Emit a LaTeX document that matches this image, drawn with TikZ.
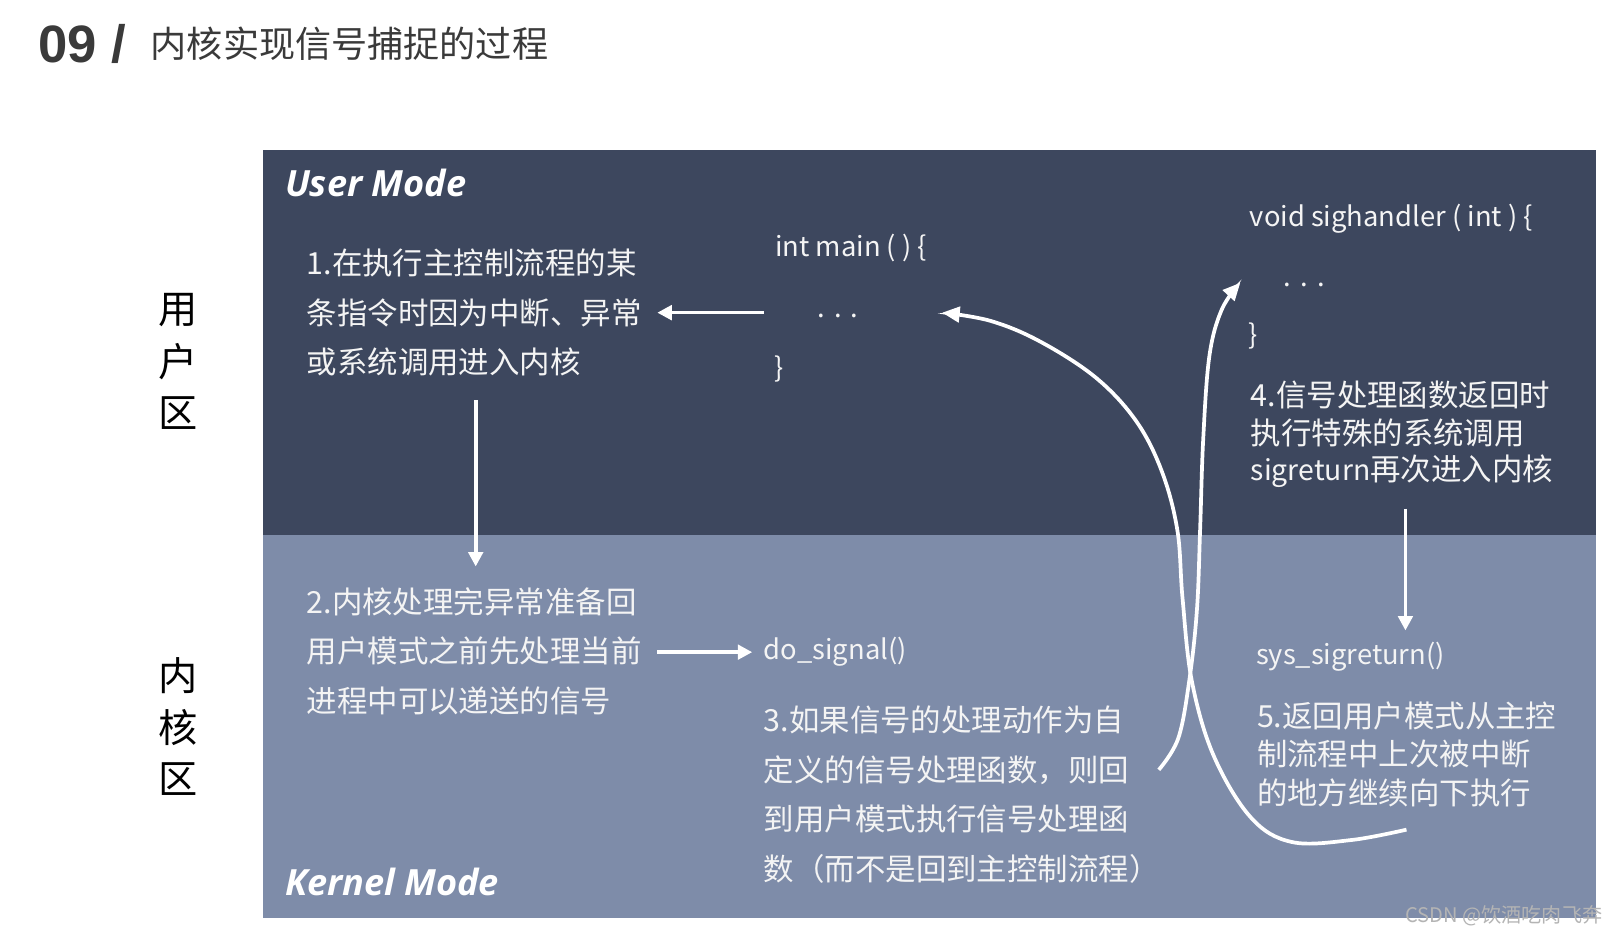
\documentclass[tikz,border=0pt]{standalone}
\usepackage{fontspec}
\setmainfont{Noto Sans CJK SC}
\newfontfamily\cjk{Noto Sans CJK SC}
\newfontfamily\titlefont{Liberation Sans}
\newfontfamily\modefont{Open Sans}
\usetikzlibrary{arrows.meta}
\definecolor{userbg}{HTML}{3D475E}
\definecolor{kernbg}{HTML}{7E8CA9}
\definecolor{txt}{HTML}{F4F4F4}
\definecolor{titlegray}{HTML}{3A3A3A}
\definecolor{wmgray}{HTML}{B4B4B4}
\begin{document}
\begin{tikzpicture}[x=1pt,y=-1pt,
  lbl/.style={text=txt, inner sep=0pt, anchor=west, font=\cjk\fontsize{29.5}{30}\selectfont},
  code/.style={text=txt, inner sep=0pt, anchor=west, font=\cjk\fontsize{26.5}{30}\selectfont},
  side/.style={text=black, inner sep=0pt, font=\cjk\fontsize{38}{40}\selectfont},
  mode/.style={text=white, inner sep=0pt, anchor=west, font=\modefont\itshape\bfseries\fontsize{35}{38}\selectfont},
  flow/.style={draw=white, line width=3.5pt, -{Triangle[length=14pt,width=14pt]}},
  swoop/.style={draw=white, line width=3.6pt, -{Triangle[length=17pt,width=15pt]}}
]
\useasboundingbox (0,0) rectangle (1568,907);
\fill[white] (0,0) rectangle (1568,907);
% panels
\fill[userbg] (255,145) rectangle (1547,518);
\fill[kernbg] (255,518) rectangle (1547,890);

% title
\node[anchor=base west, inner sep=0pt, text=titlegray, font=\titlefont\bfseries\fontsize{51}{55}\selectfont] (num) at (37,61) {09 /};
\node[anchor=west, inner sep=0pt, text=titlegray, font=\cjk\fontsize{35}{36}\selectfont] (title) at (146,42) {内核实现信号捕捉的过程};

% side labels
\node[side] (u1) at (173,300) {用};
\node[side] (u2) at (173,350) {户};
\node[side] (u3) at (173,400) {区};
\node[side] (k1) at (173,655) {内};
\node[side] (k2) at (173,705) {核};
\node[side] (k3) at (173,755) {区};

% mode labels
\node[mode] (um) at (276,177) {User Mode};
\node[mode] (km) at (276,855) {Kernel Mode};

% block 1
\node[lbl] (b1a) at (297,255) {1.在执行主控制流程的某};
\node[lbl] (b1b) at (297,303) {条指令时因为中断、异常};
\node[lbl] (b1c) at (297,351) {或系统调用进入内核};
% block 2
\node[lbl] (b2a) at (297,583) {2.内核处理完异常准备回};
\node[lbl] (b2b) at (297,631) {用户模式之前先处理当前};
\node[lbl] (b2c) at (297,679) {进程中可以递送的信号};
% block 3
\node[lbl] (b3a) at (740,698) {3.如果信号的处理动作为自};
\node[lbl] (b3b) at (740,746) {定义的信号处理函数，则回};
\node[lbl] (b3c) at (740,794) {到用户模式执行信号处理函};
\node[lbl] (b3d) at (740,842) {数（而不是回到主控制流程）};

% main code
\node[code] (mainhead) at (751,240) {int main ( ) \{};
\node[code, anchor=center] (maindots) at (812,306) {.\,\,.\,\,.};
\node[code] (mainend) at (750,358) {\}};

% handler code
\node[code] (hhead) at (1211,212) {void sighandler ( int ) \{};
\node[code, anchor=center] (hdots) at (1264,276) {.\,\,.\,\,.};
\node[code] (hend) at (1210,326) {\}};

% block 4
\node[lbl] (b4a) at (1212,383) {4.信号处理函数返回时};
\node[lbl] (b4b) at (1212,420) {执行特殊的系统调用};
\node[lbl] (b4c) at (1212,457) {{\fontsize{27.5}{30}\selectfont sigreturn}再次进入内核};

% kernel calls
\node[code] (dosig) at (740,632) {do\_signal()};
\node[code] (sysret) at (1217,636) {sys\_sigreturn()};

% block 5
\node[lbl] (b5a) at (1218,694) {5.返回用户模式从主控};
\node[lbl] (b5b) at (1218,731) {制流程中上次被中断};
\node[lbl] (b5c) at (1218,768) {的地方继续向下执行};

% watermark
\node[anchor=east, inner sep=0pt, text=wmgray, font=\cjk\fontsize{19.5}{21}\selectfont] (wm) at (1553,887) {CSDN @饮酒吃肉飞奔};

% straight arrows
\coordinate (a1s) at (740,303);
\coordinate (a1e) at (637,303);
\coordinate (a2s) at (461,388);
\coordinate (a2e) at (461,549);
\coordinate (a3s) at (637,632);
\coordinate (a3e) at (729,632);
\coordinate (a4s) at (1362,493);
\coordinate (a4e) at (1362,611);
\draw[flow] (a1s) -- (a1e);
\draw[flow] (a2s) -- (a2e);
\draw[flow] (a3s) -- (a3e);
\draw[flow] (a4s) -- (a4e);

% curve to signal handler
\draw[swoop] plot[smooth, tension=0.6] coordinates {(1123,746) (1142,715) (1153,656) (1160,590) (1163,514) (1166,426) (1172,345) (1184,300) (1202,274)};
% curve back to main
\draw[swoop] plot[smooth, tension=0.6] coordinates {(1363,804) (1310,814) (1252,816) (1212,792) (1176,732) (1155,660) (1146,580) (1141,514) (1126,457) (1101,408) (1062,366) (1008,331) (960,311) (913,303)};
\end{tikzpicture}
\end{document}
